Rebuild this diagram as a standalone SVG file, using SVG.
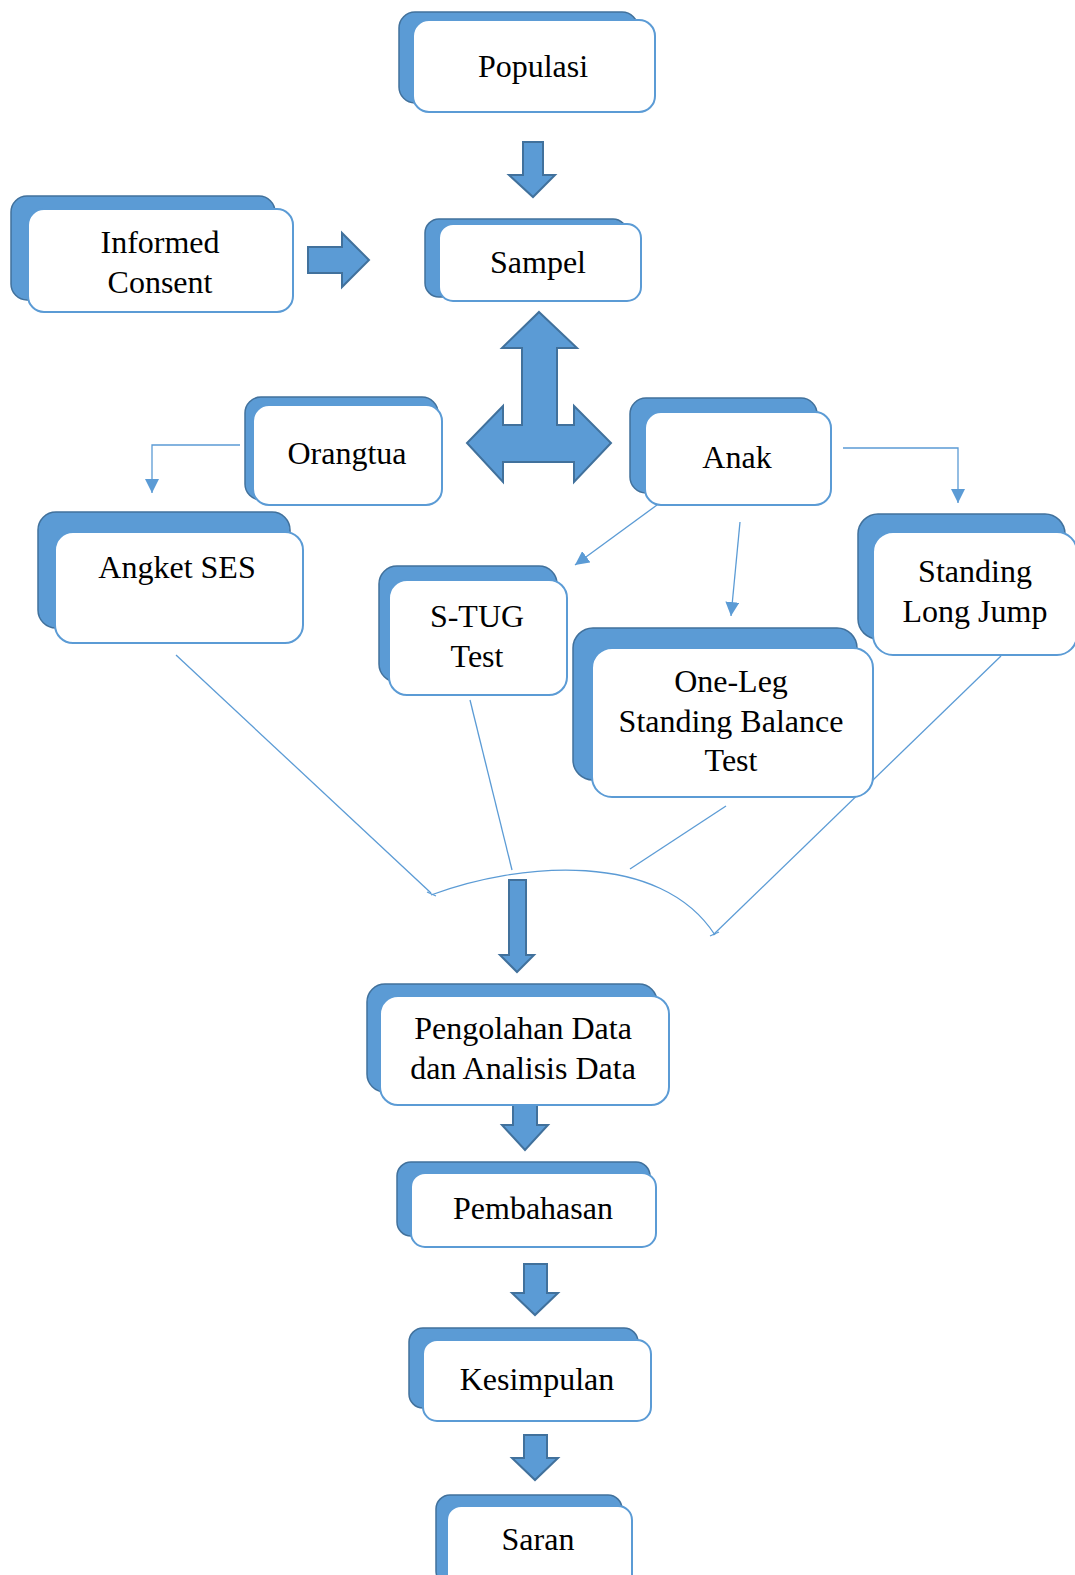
<svg xmlns="http://www.w3.org/2000/svg" width="1075" height="1575" viewBox="0 0 1075 1575">
<defs>
<style>
.bk{fill:#5b9bd5;stroke:#41719c;stroke-width:1.5}
.fr{fill:#ffffff;stroke:#5b9bd5;stroke-width:2}
.t{font-family:"Liberation Serif","Times New Roman",serif;font-size:32px;fill:#000;text-anchor:middle}
.ln{fill:none;stroke:#5b9bd5;stroke-width:1.3}
.ba{fill:#5b9bd5;stroke:#41719c;stroke-width:2;stroke-linejoin:miter}
</style>
<marker id="ah" viewBox="0 0 10 10" refX="10" refY="5" markerWidth="14" markerHeight="14" markerUnits="userSpaceOnUse" orient="auto">
<path d="M0,0 L10,5 L0,10 Z" fill="#5b9bd5"/>
</marker>
</defs>
<rect width="1075" height="1575" fill="#ffffff"/>

<g id="connectors">
<polygon class="ba" points="523,142 543,142 543,175 555,175 533,197 509,175 523,175"/>
<polygon class="ba" points="308,247 342,247 342,233 369,260 342,287 342,273 308,273"/>
<polygon class="ba" points="539,312 577,348 557,348 557,425 574,425 574,406 611,443 574,482 574,462 503,462 503,482 467,443 503,406 503,425 522,425 522,348 502,348"/>
<polyline class="ln" points="240,445 152,445 152,493" marker-end="url(#ah)"/>
<polyline class="ln" points="843,448 958,448 958,503" marker-end="url(#ah)"/>
<line class="ln" x1="657" y1="505" x2="575" y2="565" marker-end="url(#ah)"/>
<line class="ln" x1="740" y1="522" x2="731" y2="616" marker-end="url(#ah)"/>
<line class="ln" x1="176" y1="655" x2="431" y2="893"/>
<line class="ln" x1="470" y1="700" x2="512" y2="870"/>
<line class="ln" x1="726" y1="806" x2="630" y2="869"/>
<line class="ln" x1="1001" y1="656" x2="713" y2="935"/>
<path class="ln" d="M431,895 C520,862 660,850 715,935"/>
<line class="ln" x1="427" y1="892" x2="436" y2="896"/>
<line class="ln" x1="710" y1="936" x2="719" y2="932"/>
<polygon class="ba" points="509,880 526,880 526,955 534,955 517,972 500,955 509,955"/>
<polygon class="ba" points="513,1088 537,1088 537,1125 548,1125 525,1150 502,1125 513,1125"/>
<polygon class="ba" points="524,1264 547,1264 547,1293 558,1293 535,1315 512,1293 524,1293"/>
<polygon class="ba" points="524,1435 547,1435 547,1458 558,1458 535,1480 512,1458 524,1458"/>
</g>

<g id="populasi">
<rect class="bk" x="399" y="12" width="239" height="91" rx="16"/>
<rect class="fr" x="413" y="20" width="242" height="92" rx="16"/>
<text class="t" x="533" y="77">Populasi</text>
</g>

<g id="informed-consent">
<rect class="bk" x="11" y="196" width="264" height="104" rx="16"/>
<rect class="fr" x="28" y="209" width="265" height="103" rx="16"/>
<text class="t" x="160" y="253">Informed</text>
<text class="t" x="160" y="293">Consent</text>
</g>

<g id="sampel">
<rect class="bk" x="425" y="219" width="202" height="78" rx="14"/>
<rect class="fr" x="439" y="224" width="202" height="77" rx="14"/>
<text class="t" x="538" y="273">Sampel</text>
</g>

<g id="orangtua">
<rect class="bk" x="245" y="397" width="193" height="103" rx="16"/>
<rect class="fr" x="253" y="405" width="189" height="100" rx="16"/>
<text class="t" x="347" y="464">Orangtua</text>
</g>

<g id="anak">
<rect class="bk" x="630" y="398" width="187" height="95" rx="16"/>
<rect class="fr" x="645" y="412" width="186" height="93" rx="16"/>
<text class="t" x="737" y="468">Anak</text>
</g>

<g id="angket-ses">
<rect class="bk" x="38" y="512" width="252" height="116" rx="18"/>
<rect class="fr" x="55" y="532" width="248" height="111" rx="18"/>
<text class="t" x="177" y="578">Angket SES</text>
</g>

<g id="s-tug">
<rect class="bk" x="379" y="566" width="178" height="116" rx="18"/>
<rect class="fr" x="389" y="580" width="178" height="115" rx="18"/>
<text class="t" x="477" y="627">S-TUG</text>
<text class="t" x="477" y="667">Test</text>
</g>

<g id="standing-long-jump">
<rect class="bk" x="858" y="514" width="207" height="125" rx="20"/>
<rect class="fr" x="873" y="532" width="204" height="123" rx="20"/>
<text class="t" x="975" y="582">Standing</text>
<text class="t" x="975" y="622">Long Jump</text>
</g>

<g id="one-leg">
<rect class="bk" x="573" y="628" width="284" height="152" rx="20"/>
<rect class="fr" x="592" y="648" width="281" height="149" rx="20"/>
<text class="t" x="731" y="692">One-Leg</text>
<text class="t" x="731" y="732">Standing Balance</text>
<text class="t" x="731" y="771">Test</text>
</g>

<g id="pengolahan">
<rect class="bk" x="367" y="984" width="290" height="108" rx="18"/>
<rect class="fr" x="380" y="996" width="289" height="109" rx="18"/>
<text class="t" x="523" y="1039">Pengolahan Data</text>
<text class="t" x="523" y="1079">dan Analisis Data</text>
</g>

<g id="pembahasan">
<rect class="bk" x="397" y="1162" width="253" height="74" rx="14"/>
<rect class="fr" x="411" y="1173" width="245" height="74" rx="14"/>
<text class="t" x="533" y="1219">Pembahasan</text>
</g>

<g id="kesimpulan">
<rect class="bk" x="409" y="1328" width="229" height="80" rx="14"/>
<rect class="fr" x="423" y="1340" width="228" height="81" rx="14"/>
<text class="t" x="537" y="1390">Kesimpulan</text>
</g>

<g id="saran">
<rect class="bk" x="436" y="1495" width="186" height="90" rx="14"/>
<rect class="fr" x="447" y="1506" width="185" height="90" rx="14"/>
<text class="t" x="538" y="1550">Saran</text>
</g>
</svg>
